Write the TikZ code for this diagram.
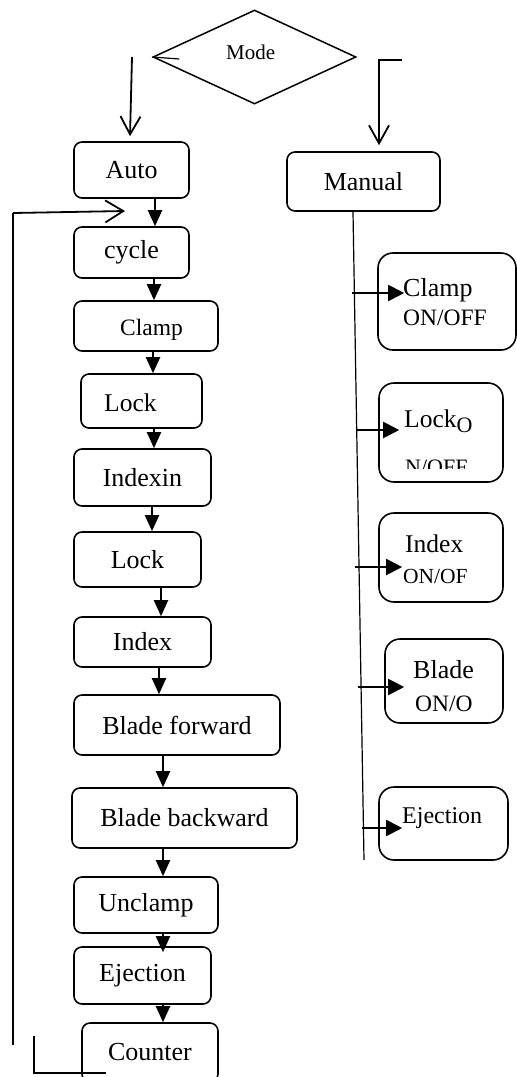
\documentclass[tikz,border=0pt]{standalone}
\usepackage{fontspec}
\setmainfont{Liberation Serif}
\usetikzlibrary{arrows.meta,shapes.geometric,calc}
\newcommand{\fsz}[1]{\fontsize{#1}{#1}\selectfont}
\begin{document}
\begin{tikzpicture}[x=1pt,y=-1pt,
  box/.style={draw, line width=1.6pt, rounded corners=8pt, inner sep=0pt, font=\fsz{26}},
  rbox/.style={draw, line width=1.6pt, rounded corners=15pt, inner sep=0pt},
  arr/.style={line width=2pt, -{Triangle[width=14pt,length=16pt]}},
  rarr/.style={line width=2pt, -{Triangle[width=16pt,length=16pt]}},
  openarr/.style={line width=1.8pt, -{Straight Barb[width=20pt,length=18pt]}},
  guide/.style={line width=1.2pt},
  txt/.style={inner sep=0pt, anchor=base west},
]
\useasboundingbox (0,0) rectangle (517,1077);
\clip (0,0) rectangle (517,1077);

% decision
\node[diamond, draw, line width=1.5pt, inner sep=0pt, minimum width=203pt, minimum height=94pt] (mode) at (254.5,57) {};
\node[txt, font=\fsz{21}] (modet) at (226,59) {Mode};
\draw[guide] (mode.west) -- ++(27,2);

% left column
\node[box, minimum width=115pt, minimum height=56pt] (auto) at (131.5,170) {Auto};
\node[box, minimum width=115pt, minimum height=51pt] (cyc) at (131.5,252.5) {cycle};
\node[box, minimum width=144pt, minimum height=50pt] (clamp) at (146,326) {};
\node[txt, font=\fsz{23.5}] (clampt) at (120,335) {Clamp};
\node[box, minimum width=121pt, minimum height=54pt] (lock) at (141.5,401) {};
\node[txt, font=\fsz{25.5}] (lockt) at (104,411) {Lock};
\node[box, minimum width=137pt, minimum height=57pt] (indexin) at (142.5,477.5) {Indexin};
\node[box, minimum width=127pt, minimum height=55pt] (lockb) at (137.5,559.5) {Lock};
\node[box, minimum width=137pt, minimum height=50pt] (index) at (142.5,642) {Index};
\node[box, minimum width=206pt, minimum height=60pt] (bf) at (177,725) {Blade forward};
\node[box, minimum width=225pt, minimum height=60pt] (bb) at (184.5,818) {Blade backward};
\node[box, minimum width=144pt, minimum height=56pt] (unclamp) at (146,905) {Unclamp};
\node[box, minimum width=137pt, minimum height=57pt] (eject) at (142.5,975.5) {Ejection};
\node[box, minimum width=136pt, minimum height=59pt] (counter) at (150,1052.5) {Counter};

% right column
\node[box, minimum width=153pt, minimum height=59pt] (manual) at (363.5,181.5) {Manual};
\node[rbox, minimum width=138pt, minimum height=97pt] (rclamp) at (447,301.5) {};
\node[txt, font=\fsz{26}] (rclampa) at (403,296) {Clamp};
\node[txt, font=\fsz{23.5}] (rclampb) at (403,325) {ON/OFF};
\node[rbox, minimum width=124pt, minimum height=99pt] (rlock) at (441,432.5) {};
\node[txt, font=\fsz{25.5}] (rlocka) at (404,427) {Lock\raisebox{-5pt}{\fsz{22}O}};
\begin{scope}
  \clip (379,440) rectangle (503,468);
  \node[txt, font=\fsz{22}] (rlockb) at (405,474) {N/OFF};
\end{scope}
\node[rbox, minimum width=124pt, minimum height=89pt] (rindex) at (441,557.5) {};
\node[txt, font=\fsz{25.5}] (rindexa) at (405,552) {Index};
\node[txt, font=\fsz{21.5}] (rindexb) at (403,583) {ON/OF};
\node[rbox, minimum width=118pt, minimum height=84pt] (rblade) at (444,681) {};
\node[txt, font=\fsz{26}] (rbladea) at (413,678) {Blade};
\node[txt, font=\fsz{23.5}] (rbladeb) at (415,711) {ON/O};
\node[rbox, minimum width=129pt, minimum height=73pt] (reject) at (443.5,823.5) {};
\node[txt, font=\fsz{24}] (rejectt) at (402,823) {Ejection};

% mode branches
\coordinate (ml) at (132,57);
\draw[openarr] (ml) -- ($(auto.north)+(-1.5,-5)$);
\coordinate (mr) at (402,60);
\draw[openarr] (mr) -| ([xshift=15.5pt,yshift=6pt]manual.north);

% auto chain
\draw[arr] (auto.south -| 155,0) -- (cyc.north -| 155,0);
\draw[arr] (cyc.south -| 154,0) -- (clamp.north -| 154,0);
\draw[arr] (clamp.south -| 153,0) -- (lock.north -| 153,0);
\draw[arr] (lock.south -| 154,0) -- (indexin.north -| 154,0);
\draw[arr] (indexin.south -| 152,0) -- (lockb.north -| 152,0);
\draw[arr] (lockb.south -| 161,0) -- (index.north -| 161,0);
\draw[arr] (index.south -| 159,0) -- (bf.north -| 159,0);
\draw[arr] (bf.south -| 163,0) -- (bb.north -| 163,0);
\draw[arr] (bb.south -| 163,0) -- (unclamp.north -| 163,0);
\draw[arr, shorten >=-6pt] (unclamp.south -| 163,0) -- (eject.north -| 163,0);
\draw[arr] (eject.south -| 163,0) -- (counter.north -| 163,0);

% feedback loop
\coordinate (fb0) at (13,1045);
\coordinate (fb1) at (13,213);
\coordinate (fbend) at (125,211);
\draw[guide] (fb0) -- (fb1);
\draw[line width=1.8pt, -{Straight Barb[width=22pt,length=18pt]}] (fb1) -- (fbend);
\coordinate (L0) at (34,1036);
\coordinate (L1) at (106,1073);
\draw[guide] (L0) |- (L1);

% manual branch
\coordinate (mbot) at (364,860);
\draw[guide] ([xshift=-10.5pt]manual.south) -- (mbot);
\coordinate (s1) at (352,293);
\coordinate (s2) at (357,430);
\coordinate (s3) at (355,567);
\coordinate (s4) at (358,687);
\coordinate (s5) at (362,828);
\draw[rarr] (s1) -- ($(rclamp.west |- s1)+(27,0)$);
\draw[rarr] (s2) -- ($(rlock.west |- s2)+(21,0)$);
\draw[rarr] (s3) -- ($(rindex.west |- s3)+(24,0)$);
\draw[rarr] (s4) -- ($(rblade.west |- s4)+(20,0)$);
\draw[rarr] (s5) -- ($(reject.west |- s5)+(24,0)$);
\end{tikzpicture}
\end{document}
